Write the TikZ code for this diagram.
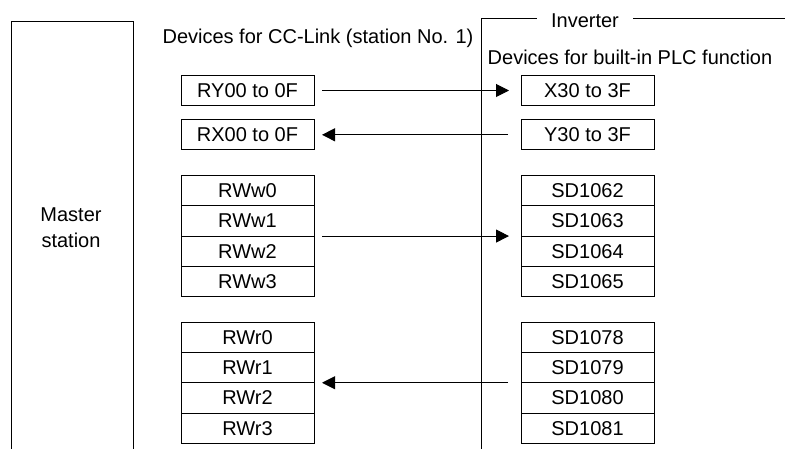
\documentclass[tikz,border=0pt]{standalone}
\usepackage{fontspec}
\setmainfont{Liberation Sans}
\usetikzlibrary{arrows.meta, positioning}
\tikzset{
    lbl/.style={inner sep=0pt, font=\fontsize{20}{26}\selectfont},
    box/.style={rectangle, draw, line width=1pt, minimum width=133pt, minimum height=30.3pt, inner sep=0pt, outer sep=0pt, font=\fontsize{20}{24}\selectfont},
    frame/.style={line width=1pt},
    arr/.style={-{Triangle[length=13pt, width=13pt]}, line width=1pt},
}

\begin{document}
\begin{tikzpicture}[x=1pt, y=1pt, node distance=14pt and 207pt]
\useasboundingbox (0,0) rectangle (785,-449);

% Master station
\draw[frame] (11,-449) |- (133,-22) -- (133,-449);
\node[lbl, align=center] (master) at (71,-228) {Master\\station};

% Inverter
\draw[frame] (481,-449) |- (785,-19);
\node[lbl, fill=white, inner xsep=14pt] (inv) at (585,-21) {Inverter};

% CC-Link devices
\node[lbl] (cctitle) at (318,-38) {Devices for CC-Link (station No. 1)};
\node[box] (ry) at (247.5,-90.5) {RY00 to 0F};
\node[box, below=of ry] (rx) {RX00 to 0F};
\node[box, below=25.5pt of rx] (rww0) {RWw0};
\node[box, below=0pt of rww0] (rww1) {RWw1};
\node[box, below=0pt of rww1] (rww2) {RWw2};
\node[box, below=0pt of rww2] (rww3) {RWw3};
\node[box, below=25.5pt of rww3] (rwr0) {RWr0};
\node[box, below=0pt of rwr0] (rwr1) {RWr1};
\node[box, below=0pt of rwr1] (rwr2) {RWr2};
\node[box, below=0pt of rwr2] (rwr3) {RWr3};

% PLC devices
\node[lbl] (plctitle) at (630,-57) {Devices for built-in PLC function};
\node[box, right=of ry] (x30) {X30 to 3F};
\node[box, right=of rx] (y30) {Y30 to 3F};
\node[box, right=of rww0] (sd1062) {SD1062};
\node[box, right=of rww1] (sd1063) {SD1063};
\node[box, right=of rww2] (sd1064) {SD1064};
\node[box, right=of rww3] (sd1065) {SD1065};
\node[box, right=of rwr0] (sd1078) {SD1078};
\node[box, right=of rwr1] (sd1079) {SD1079};
\node[box, right=of rwr2] (sd1080) {SD1080};
\node[box, right=of rwr3] (sd1081) {SD1081};

% Arrows
\draw[arr, shorten <=8pt, shorten >=12pt] (ry) -- (x30);
\draw[arr, shorten <=13pt, shorten >=8pt] (y30) -- (rx);
\draw[arr, shorten <=8pt, shorten >=12pt] (rww1.south east) -- (sd1063.south west);
\draw[arr, shorten <=13pt, shorten >=8pt] (sd1079.south west) -- (rwr1.south east);

\end{tikzpicture}
\end{document}
